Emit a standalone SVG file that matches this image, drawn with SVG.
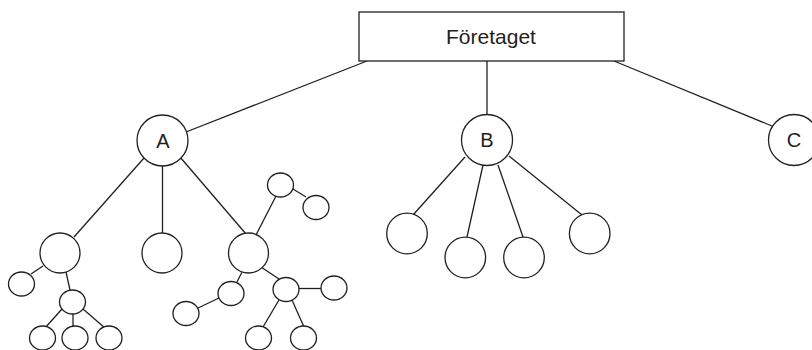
<svg xmlns="http://www.w3.org/2000/svg" width="812" height="350" viewBox="0 0 812 350">
<style>
.n{fill:#fff;stroke:#231f20;stroke-width:1.3}
.e line{stroke:#231f20;stroke-width:1.3}
.t{font-family:"Liberation Sans",Arial,sans-serif;font-size:20px;fill:#231f20;text-anchor:middle}
</style>
<rect width="812" height="350" fill="#fff"/>
<g class="e" id="connectors">
<line x1="367" y1="61" x2="186" y2="132"/>
<line x1="487" y1="61" x2="487" y2="115"/>
<line x1="614" y1="61" x2="772" y2="126"/>
<line x1="144" y1="158" x2="74" y2="237"/>
<line x1="162.5" y1="166" x2="162.5" y2="233"/>
<line x1="180" y1="157" x2="246" y2="234"/>
<line x1="43" y1="266" x2="31" y2="274"/>
<line x1="66" y1="272" x2="70" y2="290"/>
<line x1="62" y1="309" x2="45" y2="328"/>
<line x1="73" y1="314" x2="73" y2="327"/>
<line x1="83" y1="309" x2="105" y2="328"/>
<line x1="256" y1="235" x2="276" y2="196"/>
<line x1="293" y1="189" x2="306" y2="197"/>
<line x1="242" y1="272" x2="237" y2="282"/>
<line x1="198" y1="308" x2="219" y2="298"/>
<line x1="261" y1="267" x2="279" y2="279"/>
<line x1="299" y1="288.5" x2="321" y2="288.5"/>
<line x1="279" y1="300" x2="263" y2="327"/>
<line x1="292" y1="300" x2="304" y2="327"/>
<line x1="465" y1="157" x2="413" y2="215"/>
<line x1="483" y1="165" x2="467" y2="237"/>
<line x1="498" y1="165" x2="523" y2="237"/>
<line x1="509" y1="156" x2="582" y2="215"/>
</g>
<g id="foretaget">
<rect class="n" x="359" y="12" width="265" height="49"/>
<text class="t" x="491" y="44" style="font-size:21px">Företaget</text>
</g>
<g id="A"><circle class="n" cx="162.5" cy="140.5" r="25.5"/><text class="t" x="163" y="147.5">A</text></g>
<g id="B"><circle class="n" cx="487" cy="140" r="25.5"/><text class="t" x="487" y="147">B</text></g>
<g id="C"><circle class="n" cx="794" cy="140" r="25.5"/><text class="t" x="794" y="147">C</text></g>
<g id="a1"><circle class="n" cx="60" cy="253" r="20"/></g>
<g id="a2"><circle class="n" cx="162" cy="253" r="20"/></g>
<g id="a3"><circle class="n" cx="248.5" cy="253" r="20"/></g>
<g id="a1a"><ellipse class="n" cx="21.5" cy="284" rx="13" ry="12"/></g>
<g id="a1b"><ellipse class="n" cx="72.5" cy="302" rx="13" ry="12"/></g>
<g id="a1b1"><ellipse class="n" cx="42.5" cy="338" rx="13" ry="12"/></g>
<g id="a1b2"><ellipse class="n" cx="75" cy="338" rx="13" ry="12"/></g>
<g id="a1b3"><ellipse class="n" cx="109" cy="338" rx="13" ry="12"/></g>
<g id="a3a"><ellipse class="n" cx="280.5" cy="185" rx="13" ry="12"/></g>
<g id="a3a1"><ellipse class="n" cx="316" cy="207.5" rx="13" ry="12"/></g>
<g id="a3b"><ellipse class="n" cx="231" cy="293.5" rx="13" ry="12"/></g>
<g id="a3b1"><ellipse class="n" cx="186" cy="313.5" rx="13" ry="12"/></g>
<g id="a3c"><ellipse class="n" cx="286" cy="289.5" rx="13" ry="12"/></g>
<g id="a3c1"><ellipse class="n" cx="334" cy="288" rx="13" ry="12"/></g>
<g id="a3c2"><ellipse class="n" cx="258.5" cy="338" rx="13" ry="12"/></g>
<g id="a3c3"><ellipse class="n" cx="303.5" cy="338" rx="13" ry="12"/></g>
<g id="b1"><circle class="n" cx="407" cy="233.5" r="20.3"/></g>
<g id="b2"><circle class="n" cx="465.3" cy="257.5" r="20.3"/></g>
<g id="b3"><circle class="n" cx="524" cy="257.5" r="20.3"/></g>
<g id="b4"><circle class="n" cx="589.7" cy="233.5" r="20.3"/></g>
</svg>
